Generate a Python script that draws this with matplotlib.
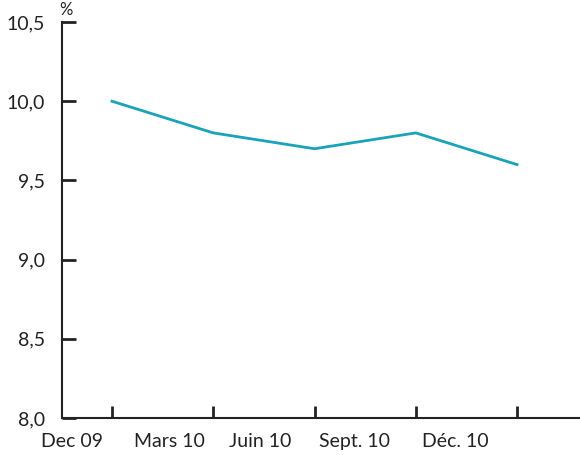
import numpy as np
import matplotlib.pyplot as plt
from matplotlib.ticker import FixedLocator, NullFormatter

# Taux de chômage (%)
periods = ['Dec 09', 'Mars 10', 'Juin 10', 'Sept. 10', 'Déc. 10']
values = [10.0, 9.8, 9.7, 9.8, 9.6]
yticks = [8.0, 8.5, 9.0, 9.5, 10.0, 10.5]

plt.rcParams['font.family'] = ['Lato', 'DejaVu Sans']

fig = plt.figure(figsize=(5.8, 4.55), dpi=100)
ax = fig.add_axes([0.1069, 0.0813, 0.8931, 0.8703])

x = np.arange(len(periods))
ax.plot(x, values, color='#1aa3b8', lw=2, solid_joinstyle='miter')

ax.set_xlim(-0.494, 4.622)
ax.set_ylim(8.0, 10.5)

for s in ['top', 'right']:
    ax.spines[s].set_visible(False)
for s in ['left', 'bottom']:
    ax.spines[s].set_linewidth(1.5)
    ax.spines[s].set_color('#222222')

ax.set_yticks(yticks)
ax.set_yticklabels([f'{v:.1f}'.replace('.', ',') for v in yticks])
ax.tick_params(axis='y', direction='in', length=10, width=2, pad=12,
               labelsize=14, colors='#222222')

# ticks on the axis, labels sit a bit to the left of each tick
ax.xaxis.set_major_locator(FixedLocator(x))
ax.xaxis.set_major_formatter(NullFormatter())
ax.tick_params(axis='x', which='major', direction='in', length=9, width=2,
               colors='#222222')
label_shift = [0.395, 0.437, 0.538, 0.61, 0.612]
ax.xaxis.set_minor_locator(FixedLocator(x - np.array(label_shift)))
ax.set_xticklabels(periods, minor=True)
ax.tick_params(axis='x', which='minor', length=0, pad=11, labelsize=14,
               labelcolor='#222222')

ax.annotate('%', xy=(0.0, 1.0), xycoords='axes fraction', xytext=(4, 12),
            textcoords='offset pixels', fontsize=12, ha='center',
            va='center', color='#222222')

fig.savefig('out.png', dpi=100)
